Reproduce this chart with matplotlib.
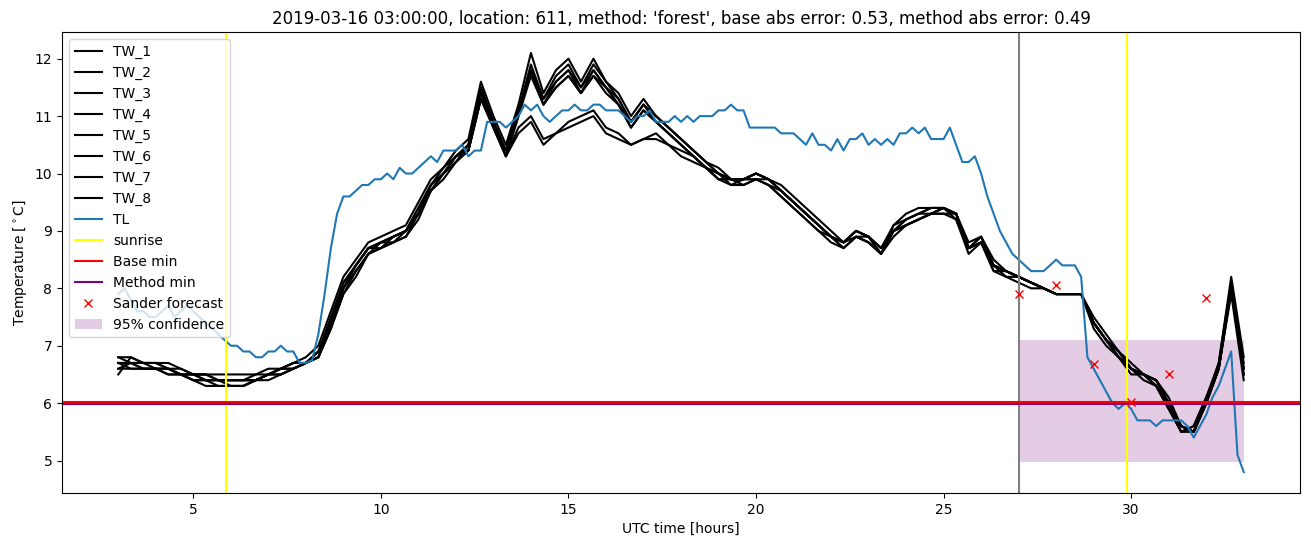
import matplotlib
matplotlib.use("Agg")
import matplotlib.pyplot as plt
import numpy as np

# TL observations every 10 minutes, 03:00 -> 33:00
tl_hours = np.linspace(3, 33, 181)
tl = [7.9, 8.0, 7.8, 7.6, 7.6, 7.5,
      7.5, 7.6, 7.7, 7.5, 7.6, 7.7,
      7.6, 7.5, 7.4, 7.3, 7.2, 7.1,
      7.0, 7.0, 6.9, 6.9, 6.8, 6.8,
      6.9, 6.9, 7.0, 6.9, 6.9, 6.7,
      6.7, 6.75, 7.2, 7.9, 8.7, 9.3,
      9.6, 9.6, 9.7, 9.8, 9.8, 9.9,
      9.9, 10.0, 9.9, 10.1, 10.0, 10.0,
      10.1, 10.2, 10.3, 10.2, 10.4, 10.4,
      10.4, 10.5, 10.3, 10.4, 10.4, 10.9,
      10.9, 10.9, 10.8, 10.9, 11.0, 11.2,
      11.1, 11.2, 11.0, 10.9, 11.0, 11.1,
      11.1, 11.2, 11.1, 11.1, 11.2, 11.2,
      11.1, 11.1, 11.1, 11.0, 10.9, 11.0,
      11.0, 11.1, 10.9, 10.9, 10.9, 11.0,
      10.9, 11.0, 10.9, 11.0, 11.0, 11.0,
      11.1, 11.1, 11.2, 11.1, 11.1, 10.8,
      10.8, 10.8, 10.8, 10.8, 10.7, 10.7,
      10.7, 10.6, 10.5, 10.7, 10.5, 10.5,
      10.4, 10.6, 10.4, 10.6, 10.6, 10.7,
      10.5, 10.6, 10.5, 10.6, 10.5, 10.7,
      10.7, 10.8, 10.7, 10.8, 10.6, 10.6,
      10.6, 10.8, 10.5, 10.2, 10.2, 10.3,
      10.0, 9.6, 9.3, 9.0, 8.8, 8.6,
      8.5, 8.4, 8.3, 8.3, 8.3, 8.4,
      8.5, 8.4, 8.4, 8.4, 8.2, 6.8,
      6.6, 6.4, 6.2, 6.0, 5.9, 6.0,
      5.9, 5.7, 5.7, 5.7, 5.6, 5.7,
      5.7, 5.7, 5.7, 5.6, 5.4, 5.6,
      5.8, 6.1, 6.3, 6.6, 6.9, 5.1,
      4.8]

# TW series every 20 minutes, 03:00 -> 33:00
tw_hours = np.linspace(3, 33, 91)
tw_1 = [6.8, 6.8, 6.7, 6.7, 6.7, 6.6, 6.5, 6.5, 6.5, 6.5,
        6.5, 6.5, 6.6, 6.6, 6.7, 6.8, 7.0, 7.6, 8.2, 8.5,
        8.8, 8.9, 9.0, 9.1, 9.5, 9.9, 10.1, 10.4, 10.6, 11.6,
        11.0, 10.5, 11.2, 12.1, 11.4, 11.8, 12.0, 11.6, 12.0, 11.6,
        11.4, 11.0, 11.3, 11.0, 10.8, 10.6, 10.4, 10.2, 10.1, 9.9,
        9.9, 10.0, 9.9, 9.8, 9.6, 9.4, 9.2, 9.0, 8.8, 9.0,
        8.9, 8.6, 9.1, 9.3, 9.4, 9.4, 9.4, 9.3, 8.8, 8.9,
        8.5, 8.3, 8.2, 8.1, 8.0, 7.9, 7.9, 7.9, 7.5, 7.2,
        6.9, 6.7, 6.5, 6.4, 6.0, 5.6, 5.5, 6.0, 6.7, 8.2, 6.8]
tw_2 = [6.8, 6.7, 6.7, 6.7, 6.6, 6.5, 6.5, 6.5, 6.4, 6.4,
        6.4, 6.5, 6.5, 6.6, 6.7, 6.7, 6.9, 7.5, 8.1, 8.4,
        8.7, 8.8, 8.9, 9.0, 9.4, 9.8, 10.0, 10.3, 10.5, 11.5,
        10.9, 10.4, 11.1, 11.9, 11.3, 11.7, 11.9, 11.5, 11.9, 11.6,
        11.3, 10.9, 11.2, 11.0, 10.8, 10.6, 10.4, 10.2, 10.0, 9.9,
        9.9, 10.0, 9.9, 9.7, 9.5, 9.3, 9.1, 8.9, 8.8, 9.0,
        8.9, 8.7, 9.0, 9.2, 9.3, 9.4, 9.4, 9.3, 8.7, 8.9,
        8.4, 8.3, 8.2, 8.1, 8.0, 7.9, 7.9, 7.9, 7.4, 7.1,
        6.9, 6.6, 6.5, 6.4, 6.1, 5.6, 5.5, 6.0, 6.6, 8.1, 6.6]
tw_3 = [6.7, 6.7, 6.7, 6.6, 6.6, 6.5, 6.4, 6.4, 6.4, 6.3,
        6.3, 6.4, 6.5, 6.6, 6.6, 6.7, 6.8, 7.3, 8.0, 8.3,
        8.6, 8.7, 8.9, 9.0, 9.3, 9.7, 10.0, 10.2, 10.5, 11.4,
        10.8, 10.3, 11.0, 11.8, 11.2, 11.6, 11.8, 11.4, 11.8, 11.5,
        11.2, 10.9, 11.2, 10.9, 10.7, 10.5, 10.3, 10.1, 10.0, 9.8,
        9.9, 9.9, 9.9, 9.7, 9.5, 9.3, 9.1, 8.9, 8.7, 8.9,
        8.9, 8.6, 9.0, 9.2, 9.3, 9.3, 9.4, 9.2, 8.7, 8.8,
        8.4, 8.2, 8.2, 8.1, 8.0, 7.9, 7.9, 7.9, 7.4, 7.1,
        6.8, 6.6, 6.5, 6.3, 6.0, 5.5, 5.6, 6.1, 6.6, 8.0, 6.5]
tw_4 = [6.6, 6.7, 6.6, 6.6, 6.6, 6.5, 6.5, 6.4, 6.4, 6.4,
        6.4, 6.4, 6.5, 6.6, 6.7, 6.7, 6.8, 7.3, 7.9, 8.3,
        8.6, 8.8, 8.8, 8.9, 9.3, 9.7, 10.0, 10.3, 10.4, 11.3,
        10.9, 10.4, 11.0, 11.8, 11.2, 11.5, 11.7, 11.4, 11.7, 11.5,
        11.2, 10.8, 11.1, 10.9, 10.7, 10.5, 10.3, 10.1, 9.9, 9.9,
        9.9, 9.9, 9.8, 9.6, 9.4, 9.2, 9.0, 8.9, 8.7, 8.9,
        8.8, 8.6, 8.9, 9.1, 9.2, 9.3, 9.3, 9.3, 8.7, 8.8,
        8.4, 8.3, 8.2, 8.1, 8.0, 7.9, 7.9, 7.9, 7.3, 7.0,
        6.8, 6.6, 6.4, 6.3, 5.9, 5.5, 5.6, 6.1, 6.7, 8.1, 6.7]
tw_5 = [6.7, 6.6, 6.6, 6.6, 6.5, 6.5, 6.4, 6.4, 6.3, 6.3,
        6.3, 6.4, 6.4, 6.5, 6.6, 6.7, 6.8, 7.3, 7.9, 8.2,
        8.6, 8.7, 8.8, 8.9, 9.2, 9.7, 9.9, 10.2, 10.4, 11.3,
        10.8, 10.3, 11.0, 11.7, 11.2, 11.5, 11.7, 11.4, 11.7, 11.4,
        11.2, 10.8, 11.1, 10.9, 10.7, 10.5, 10.3, 10.1, 9.9, 9.8,
        9.8, 9.9, 9.8, 9.6, 9.4, 9.2, 9.0, 8.8, 8.7, 8.9,
        8.8, 8.6, 9.0, 9.1, 9.2, 9.3, 9.3, 9.2, 8.6, 8.8,
        8.3, 8.2, 8.1, 8.0, 8.0, 7.9, 7.9, 7.9, 7.4, 7.1,
        6.8, 6.5, 6.5, 6.3, 5.9, 5.5, 5.5, 6.0, 6.6, 7.9, 6.4]
tw_6 = [6.5, 6.8, 6.7, 6.7, 6.6, 6.6, 6.5, 6.5, 6.4, 6.4,
        6.4, 6.4, 6.5, 6.5, 6.6, 6.7, 6.9, 7.4, 8.0, 8.4,
        8.7, 8.8, 8.9, 9.0, 9.4, 9.8, 10.1, 10.3, 10.5, 11.5,
        10.9, 10.4, 11.1, 11.8, 11.3, 11.6, 11.8, 11.5, 11.8, 11.5,
        11.3, 10.9, 11.2, 11.0, 10.8, 10.6, 10.4, 10.2, 10.0, 9.9,
        9.9, 10.0, 9.9, 9.7, 9.5, 9.3, 9.1, 8.9, 8.8, 9.0,
        8.9, 8.7, 9.1, 9.2, 9.3, 9.4, 9.4, 9.3, 8.7, 8.9,
        8.4, 8.3, 8.2, 8.1, 8.0, 7.9, 7.9, 7.9, 7.4, 7.1,
        6.9, 6.6, 6.5, 6.4, 6.0, 5.6, 5.5, 6.0, 6.6, 8.1, 6.6]
tw_7 = [6.6, 6.6, 6.6, 6.6, 6.5, 6.5, 6.5, 6.4, 6.4, 6.4,
        6.4, 6.4, 6.5, 6.6, 6.6, 6.7, 6.8, 7.4, 8.0, 8.4,
        8.7, 8.8, 8.9, 9.0, 9.3, 9.8, 10.0, 10.3, 10.4, 11.3,
        10.8, 10.3, 10.8, 11.0, 10.6, 10.7, 10.9, 11.0, 11.1, 10.8,
        10.7, 10.5, 10.6, 10.7, 10.5, 10.4, 10.3, 10.1, 10.0, 9.9,
        9.9, 10.0, 9.9, 9.7, 9.5, 9.3, 9.1, 8.9, 8.8, 9.0,
        8.9, 8.7, 9.0, 9.1, 9.2, 9.3, 9.4, 9.3, 8.7, 8.8,
        8.4, 8.3, 8.2, 8.1, 8.0, 7.9, 7.9, 7.9, 7.4, 7.1,
        6.9, 6.6, 6.5, 6.4, 6.0, 5.6, 5.5, 6.0, 6.6, 8.0, 6.6]
tw_8 = [6.7, 6.7, 6.6, 6.6, 6.6, 6.5, 6.4, 6.3, 6.3, 6.3,
        6.3, 6.4, 6.5, 6.5, 6.6, 6.7, 6.9, 7.4, 8.1, 8.4,
        8.7, 8.7, 8.8, 9.0, 9.3, 9.8, 10.0, 10.2, 10.4, 11.4,
        10.9, 10.3, 10.7, 10.9, 10.5, 10.7, 10.8, 10.9, 11.0, 10.7,
        10.6, 10.5, 10.6, 10.6, 10.5, 10.3, 10.2, 10.1, 9.9, 9.9,
        9.8, 9.9, 9.8, 9.7, 9.5, 9.3, 9.1, 8.9, 8.8, 8.9,
        8.8, 8.6, 9.0, 9.1, 9.2, 9.3, 9.4, 9.3, 8.7, 8.8,
        8.3, 8.3, 8.2, 8.1, 8.0, 7.9, 7.9, 7.9, 7.4, 7.1,
        6.8, 6.6, 6.5, 6.3, 5.9, 5.6, 5.5, 6.0, 6.6, 8.0, 6.5]
tw_series = [tw_1, tw_2, tw_3, tw_4, tw_5, tw_6, tw_7, tw_8]

sunrise_hours = [5.88, 29.88]
forecast_start = 27.0
base_min = 6.022
method_min = 5.99

sander_hours = [27, 28, 29, 30, 31, 32]
sander_temp = [7.91, 8.06, 6.68, 6.02, 6.50, 7.84]

conf_hours = [27.0, 33.0]
conf_low = 4.97
conf_high = 7.1

fig = plt.figure(figsize=(13.11, 5.47), dpi=100)
ax = fig.add_axes([62 / 1311, 54 / 547, 1238 / 1311, 461 / 547])

for i, tw in enumerate(tw_series):
    ax.plot(tw_hours, tw, color='black', label='TW_%d' % (i + 1))
ax.plot(tl_hours, tl, label='TL')
ax.axvline(sunrise_hours[0], color='yellow', label='sunrise')
ax.axvline(sunrise_hours[1], color='yellow')
ax.axvline(forecast_start, color='gray')
ax.axhline(base_min, color='red', label='Base min')
ax.axhline(method_min, color='purple', label='Method min')
ax.plot(sander_hours, sander_temp, 'x', color='red', label='Sander forecast')
ax.fill_between(conf_hours, conf_low, conf_high, color='purple', alpha=0.2,
                linewidth=0, label='95% confidence')

ax.set_xlabel('UTC time [hours]')
ax.set_ylabel(r'Temperature [$^\circ$C]')
ax.set_title("2019-03-16 03:00:00, location: 611, method: 'forest', "
             "base abs error: 0.53, method abs error: 0.49")
ax.legend(loc='upper left')

fig.savefig('out.png')
